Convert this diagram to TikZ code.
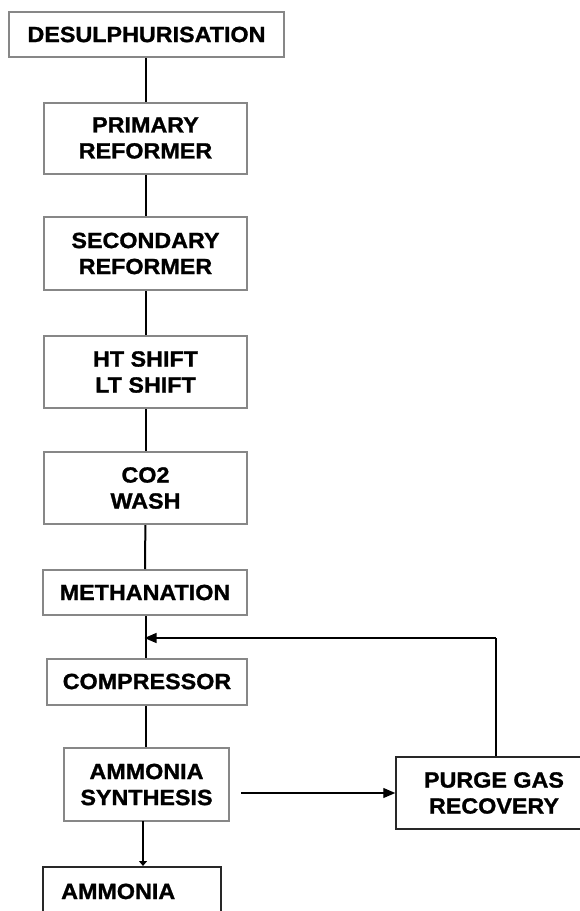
\documentclass[tikz,border=0pt]{standalone}
\usepackage{fontspec}
\setmainfont{Liberation Sans}[FakeStretch=1.06, BoldFeatures={FakeBold=1.2}]
\usetikzlibrary{arrows.meta,positioning}
\definecolor{boxgray}{RGB}{135,135,135}
\definecolor{boxdark}{RGB}{40,40,40}
\tikzset{
  boxfont/.style={font=\fontsize{22}{26}\selectfont\bfseries},
  stepbox/.style={draw=boxgray, line width=2pt, fill=white, align=center, inner sep=0pt, boxfont},
  darkbox/.style={draw=boxdark, line width=1.5pt, fill=white, align=center, inner sep=0pt, boxfont},
  mainline/.style={draw=black, line width=2pt},
  thinline/.style={draw=black, line width=1.2pt},
  bigtip/.style={-{Triangle[length=12pt,width=10pt]}},
}
\begin{document}
\begin{tikzpicture}[x=1pt,y=-1pt]
\useasboundingbox (0,0) rectangle (580,911);
\fill[white] (0,0) rectangle (580,911);

\node[stepbox, minimum width=275pt, minimum height=45pt] (desulph) at (146.5,34.5) {DESULPHURISATION};
\node[stepbox, minimum width=203pt, minimum height=71pt] (primary) at (145.5,138) {PRIMARY\\REFORMER};
\node[stepbox, minimum width=203pt, minimum height=73pt] (secondary) at (145.5,253.5) {SECONDARY\\REFORMER};
\node[stepbox, minimum width=203pt, minimum height=72pt] (shift) at (145.5,372) {HT SHIFT\\LT SHIFT};
\node[stepbox, minimum width=203pt, minimum height=72pt] (co2) at (145.5,488) {CO2\\WASH};
\node[stepbox, minimum width=204pt, minimum height=45pt] (meth) at (145,592.5) {METHANATION};
\node[stepbox, minimum width=200pt, minimum height=46pt] (comp) at (147,681.5) {COMPRESSOR};
\node[stepbox, minimum width=165pt, minimum height=73pt] (synth) at (146.5,784.5) {AMMONIA\\SYNTHESIS};
\node[darkbox, minimum width=196pt, minimum height=72pt] (purge) at (494,793) {PURGE GAS\\RECOVERY};
\node[darkbox, minimum width=178pt, minimum height=80pt, anchor=north] (amm) at (132,866) {};
\node[boxfont, inner sep=0pt, anchor=base west] (ammtext) at (61,899) {AMMONIA};

\coordinate (join) at (145.5,638);
\coordinate (corner) at (496,638);

\draw[mainline] (desulph.south -| primary.north) -- (primary.north);
\draw[mainline] (primary) -- (secondary);
\draw[mainline] (secondary) -- (shift);
\draw[mainline] (shift) -- (co2);
\draw[mainline] (co2) -- (meth);
\draw[mainline] (meth.south -| join) -- (comp.north -| join);
\draw[mainline] (comp.south -| join) -- (synth.north -| join);

\draw[thinline] (purge.north -| corner) -- (corner);
\draw[thinline, bigtip] (corner) -- ([xshift=-1pt]join);
\draw[thinline, bigtip, shorten <=11pt] (synth.east |- purge.west) -- (purge.west);
\draw[thinline, -{Triangle[length=5pt,width=8pt]}] (143,821) -- (143,866);
\end{tikzpicture}
\end{document}
